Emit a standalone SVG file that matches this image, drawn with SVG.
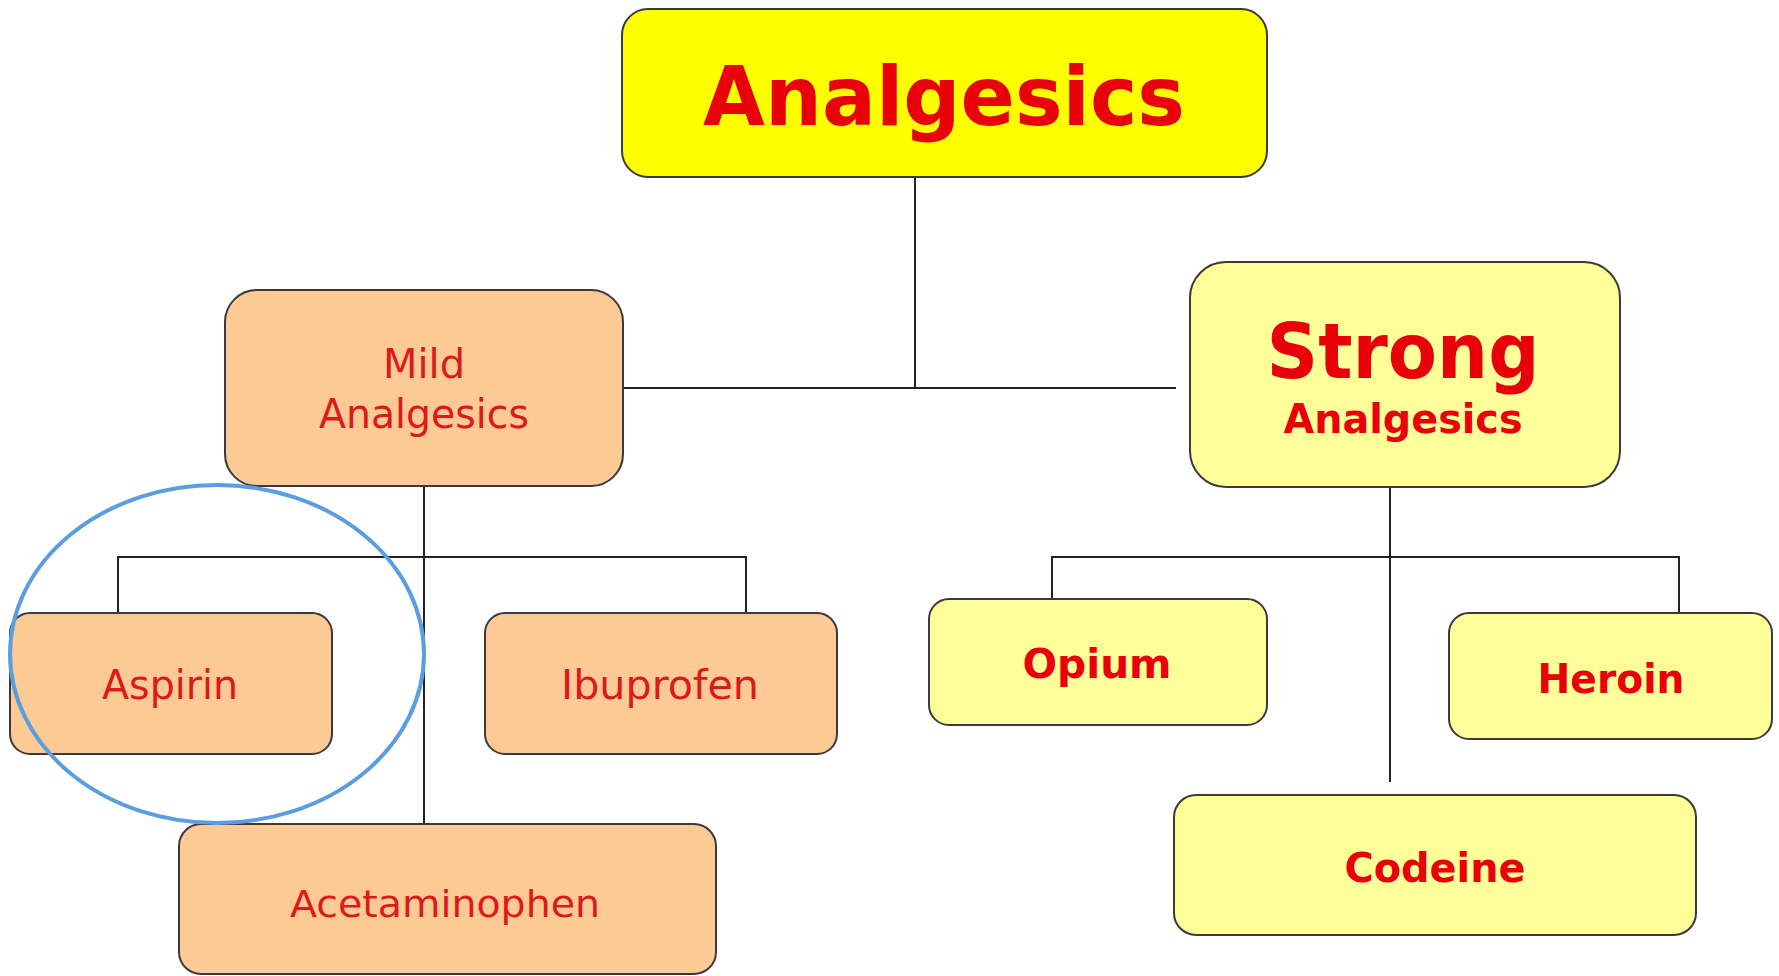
<svg xmlns="http://www.w3.org/2000/svg" width="1779" height="976" viewBox="0 0 1779 976">
<style>
.box{stroke:#3a3a3a;stroke-width:2}
.top{fill:#ffff00}
.mild{fill:#fdc994}
.strong{fill:#ffff99}
.conn{stroke:#222;stroke-width:2;fill:none}
.t{font-family:"DejaVu Sans","Liberation Sans",sans-serif;text-anchor:middle}
.b{font-weight:bold;fill:#e8000b}
.r{fill:#dc1a1a}
</style>
<rect width="1779" height="976" fill="#ffffff"/>
<g id="connectors" class="conn">
<line x1="915" y1="177" x2="915" y2="388"/>
<line x1="623" y1="388" x2="1176" y2="388"/>
<line x1="424" y1="486" x2="424" y2="824"/>
<polyline points="118,613 118,557 746,557 746,613"/>
<line x1="1390" y1="487" x2="1390" y2="782"/>
<polyline points="1052,613 1052,557 1679,557 1679,613"/>
</g>
<g id="analgesics">
<rect class="box top" x="622" y="9" width="645" height="168" rx="26"/>
<text class="t b" x="944" y="125" font-size="82" textLength="482" lengthAdjust="spacingAndGlyphs">Analgesics</text>
</g>
<g id="mild">
<rect class="box mild" x="225" y="290" width="398" height="196" rx="32"/>
<text class="t r" x="424" y="378" font-size="40">Mild</text>
<text class="t r" x="424" y="428" font-size="40" textLength="210" lengthAdjust="spacingAndGlyphs">Analgesics</text>
</g>
<g id="strong">
<rect class="box strong" x="1190" y="262" width="430" height="225" rx="36"/>
<text class="t b" x="1403" y="378" font-size="76" textLength="273" lengthAdjust="spacingAndGlyphs">Strong</text>
<text class="t b" x="1403" y="433" font-size="40" textLength="239" lengthAdjust="spacingAndGlyphs">Analgesics</text>
</g>
<g id="aspirin">
<rect class="box mild" x="10" y="613" width="322" height="141" rx="20"/>
<text class="t r" x="170" y="699" font-size="40" textLength="136" lengthAdjust="spacingAndGlyphs">Aspirin</text>
</g>
<g id="ibuprofen">
<rect class="box mild" x="485" y="613" width="352" height="141" rx="20"/>
<text class="t r" x="660" y="699" font-size="40" textLength="198" lengthAdjust="spacingAndGlyphs">Ibuprofen</text>
</g>
<g id="acetaminophen">
<rect class="box mild" x="179" y="824" width="537" height="150" rx="22"/>
<text class="t r" x="445" y="917" font-size="38" textLength="310" lengthAdjust="spacingAndGlyphs">Acetaminophen</text>
</g>
<g id="opium">
<rect class="box strong" x="929" y="599" width="338" height="126" rx="20"/>
<text class="t b" x="1097" y="678" font-size="41" textLength="149" lengthAdjust="spacingAndGlyphs">Opium</text>
</g>
<g id="heroin">
<rect class="box strong" x="1449" y="613" width="323" height="126" rx="20"/>
<text class="t b" x="1611" y="693" font-size="41" textLength="147" lengthAdjust="spacingAndGlyphs">Heroin</text>
</g>
<g id="codeine">
<rect class="box strong" x="1174" y="795" width="522" height="140" rx="22"/>
<text class="t b" x="1435" y="882" font-size="41" textLength="181" lengthAdjust="spacingAndGlyphs">Codeine</text>
</g>
<g id="highlight">
<ellipse cx="217" cy="654" rx="207" ry="169" fill="none" stroke="#5b9ee0" stroke-width="4"/>
</g>
</svg>
